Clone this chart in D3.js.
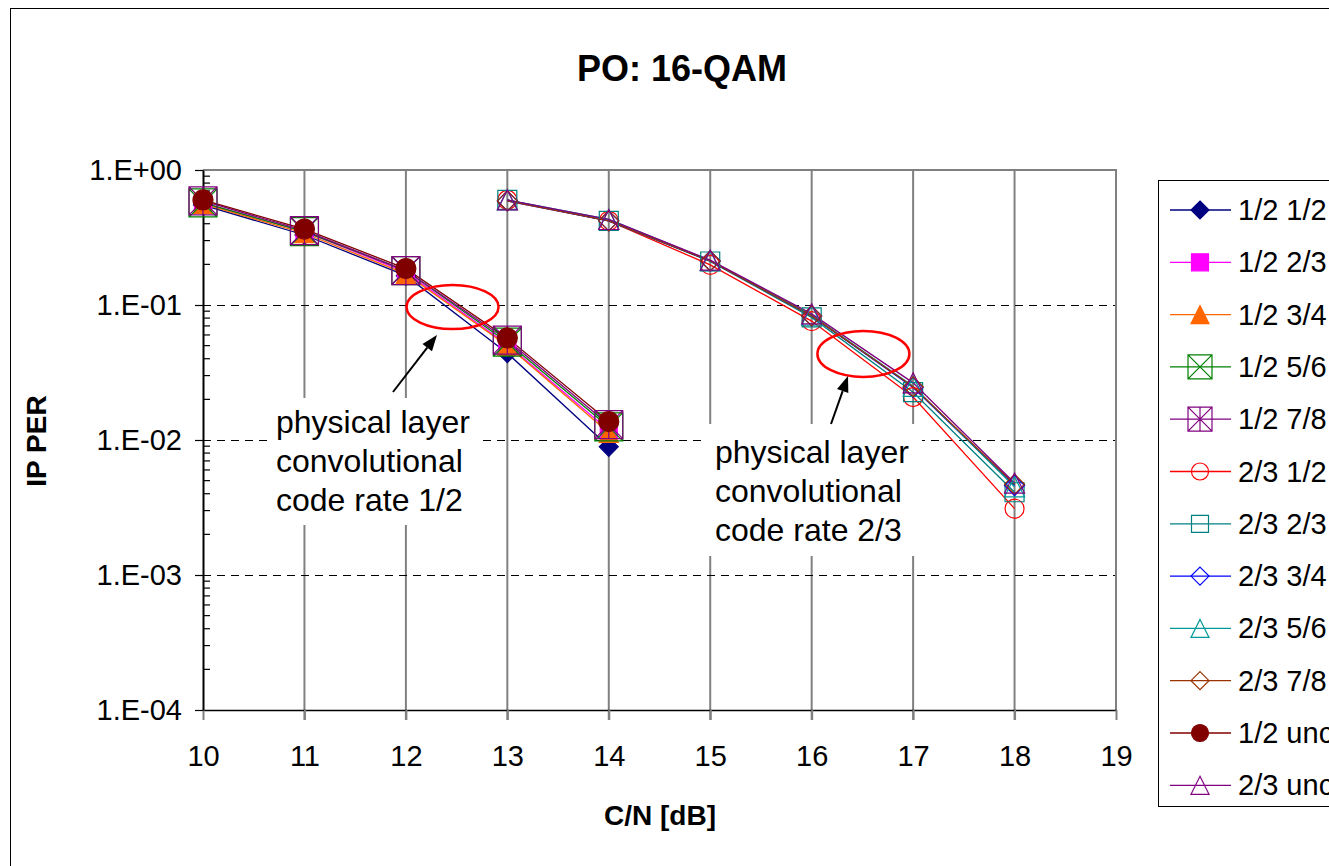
<!DOCTYPE html>
<html>
<head>
<meta charset="utf-8">
<script src="https://cdn.jsdelivr.net/npm/d3@7"></script>
<style>
body { margin: 0; background: #fff; }
svg { display: block; font-family: "Liberation Sans", Arial, sans-serif; }
</style>
</head>
<body>
<svg></svg>
<script>
const size = {w: 1329, h: 866};
const plot = {l: 203, r: 1116, t: 170, b: 710};

// ---- data ----
const xRate12 = [10, 11, 12, 13, 14];
const xRate23 = [13, 14, 15, 16, 17, 18];

const seriesNames = ['1/2 1/2', '1/2 2/3', '1/2 3/4', '1/2 5/6', '1/2 7/8',
    '2/3 1/2', '2/3 2/3', '2/3 3/4', '2/3 5/6', '2/3 7/8', '1/2 uncoded', '2/3 uncoded'];

const per12_12 = [0.55, 0.33, 0.165, 0.044, 0.0089];
const per12_23 = [0.57, 0.35, 0.175, 0.051, 0.0118];
const per12_34 = [0.56, 0.34, 0.17, 0.050, 0.0113];
const per12_56 = [0.57, 0.35, 0.18, 0.053, 0.0125];
const per12_78 = [0.59, 0.355, 0.18, 0.055, 0.013];
const per23_12 = [0.60, 0.42, 0.198, 0.076, 0.0208, 0.0031];
const per23_23 = [0.60, 0.42, 0.21, 0.081, 0.0226, 0.0041];
const per23_34 = [0.59, 0.42, 0.212, 0.083, 0.0245, 0.0046];
const per23_56 = [0.60, 0.43, 0.213, 0.084, 0.025, 0.0045];
const per23_78 = [0.59, 0.42, 0.212, 0.083, 0.0248, 0.0047];
const per12_unc = [0.60, 0.365, 0.186, 0.057, 0.0137];
const per23_unc = [0.60, 0.43, 0.215, 0.086, 0.0265, 0.0048];

const xTickValues = [10, 11, 12, 13, 14, 15, 16, 17, 18, 19];
const yTickValues = [1, 1e-1, 1e-2, 1e-3, 1e-4];
const yTickLabels = ['1.E+00', '1.E-01', '1.E-02', '1.E-03', '1.E-04'];

// ---- styles ----
const seriesStyles = [
    {color: '#000080', marker: 'diamond', fill: true, s: 19, ls: 18},
    {color: '#ff00ff', marker: 'square', fill: true, s: 17, ls: 17},
    {color: '#ff6600', marker: 'triangle', fill: true, s: 19, ls: 18},
    {color: '#008000', marker: 'squareX', fill: false, s: 28, ls: 24},
    {color: '#800080', marker: 'squareStar', fill: false, s: 28, ls: 24},
    {color: '#ff0000', marker: 'circle', fill: false, s: 19, ls: 17},
    {color: '#008080', marker: 'square', fill: false, s: 19, ls: 17},
    {color: '#0000ff', marker: 'diamond', fill: false, s: 20, ls: 18},
    {color: '#009999', marker: 'triangle', fill: false, s: 20, ls: 18},
    {color: '#993300', marker: 'diamond', fill: false, s: 20, ls: 18},
    {color: '#800000', marker: 'circle', fill: true, s: 20, ls: 17},
    {color: '#800080', marker: 'triangle', fill: false, s: 20, ls: 18}
];

const seriesValues = [per12_12, per12_23, per12_34, per12_56, per12_78,
    per23_12, per23_23, per23_34, per23_56, per23_78, per12_unc, per23_unc];
const seriesX = [xRate12, xRate12, xRate12, xRate12, xRate12,
    xRate23, xRate23, xRate23, xRate23, xRate23, xRate12, xRate23];

const series = seriesNames.map((name, i) => ({
    name: name,
    style: seriesStyles[i],
    points: seriesValues[i].map((v, j) => ({x: seriesX[i][j], y: v}))
}));

const svg = d3.select('svg')
    .attr('width', size.w)
    .attr('height', size.h);

const x = d3.scaleLinear().domain([10, 19]).range([plot.l, plot.r]);
const y = d3.scaleLog().domain([1e-4, 1]).range([plot.b, plot.t]);

// outer chart border
svg.append('rect')
    .attr('x', 10.5).attr('y', 8.5)
    .attr('width', 1400).attr('height', 900)
    .attr('fill', '#fff')
    .attr('stroke', '#000').attr('stroke-width', 1);

svg.append('text')
    .attr('x', 682).attr('y', 81)
    .attr('text-anchor', 'middle')
    .attr('font-size', 36).attr('font-weight', 'bold')
    .text('PO: 16-QAM');

// vertical grid lines (extend below axis as ticks)
svg.append('g').selectAll('line')
    .data(xTickValues.slice(1, -1))
    .enter().append('line')
    .attr('x1', d => x(d)).attr('x2', d => x(d))
    .attr('y1', plot.t).attr('y2', plot.b + 10)
    .attr('stroke', '#808080').attr('stroke-width', 2);

// horizontal dashed grid lines
svg.append('g').selectAll('line')
    .data(yTickValues.slice(1, -1))
    .enter().append('line')
    .attr('x1', plot.l).attr('x2', plot.r)
    .attr('y1', d => Math.round(y(d)) + 0.5).attr('y2', d => Math.round(y(d)) + 0.5)
    .attr('stroke', '#000').attr('stroke-width', 1)
    .attr('stroke-dasharray', '8,6');

// plot border top/right
svg.append('path')
    .attr('d', `M${plot.l},${plot.t}H${plot.r}V${plot.b}`)
    .attr('fill', 'none')
    .attr('stroke', '#808080').attr('stroke-width', 2);

// axes
let xAxis = svg.append('g')
    .attr('transform', `translate(0,${plot.b})`)
    .call(d3.axisBottom(x).tickValues(xTickValues).tickSize(10).tickPadding(25).tickSizeOuter(0))
xAxis.selectAll('text').attr('font-size', 29).attr('fill', '#000').attr('font-family', null);
xAxis.selectAll('line').attr('stroke', '#808080').attr('stroke-width', 2);
xAxis.select('.domain').attr('stroke', '#000').attr('stroke-width', 1.5);

let yAxis = svg.append('g')
    .attr('transform', `translate(${plot.l},0)`)
    .call(d3.axisLeft(y).tickValues(yTickValues)
        .tickFormat((d, i) => yTickLabels[i]).tickSize(8).tickPadding(13).tickSizeOuter(0));
yAxis.selectAll('text').attr('font-size', 29).attr('fill', '#000').attr('font-family', null);
yAxis.selectAll('line').attr('stroke', '#000').attr('stroke-width', 1.2);
yAxis.select('.domain').attr('stroke', '#000').attr('stroke-width', 2);

// minor ticks on y axis (inside)
let minorVals = [];
[-4, -3, -2, -1].forEach(e => {
    for (let k = 2; k <= 9; k++) minorVals.push(k * Math.pow(10, e));
});
svg.append('g').selectAll('line')
    .data(minorVals)
    .enter().append('line')
    .attr('x1', plot.l).attr('x2', plot.l + 7)
    .attr('y1', d => y(d)).attr('y2', d => y(d))
    .attr('stroke', '#000').attr('stroke-width', 1.2);

svg.append('text')
    .attr('transform', 'translate(46,441) rotate(-90)')
    .attr('text-anchor', 'middle')
    .attr('font-size', 28).attr('font-weight', 'bold')
    .text('IP PER');

svg.append('text')
    .attr('x', 660).attr('y', 825)
    .attr('text-anchor', 'middle')
    .attr('font-size', 28).attr('font-weight', 'bold')
    .text('C/N [dB]');

// marker shapes
function markerPath(type, s) {
    let h = s / 2;
    if (type === 'diamond') return `M0,${-h}L${h},0L0,${h}L${-h},0Z`;
    if (type === 'square') return `M${-h},${-h}H${h}V${h}H${-h}Z`;
    if (type === 'triangle') return `M0,${-h}L${h},${h}H${-h}Z`;
    if (type === 'circle') return `M${h},0A${h},${h} 0 1,1 ${-h},0A${h},${h} 0 1,1 ${h},0Z`;
    if (type === 'squareX') return `M${-h},${-h}H${h}V${h}H${-h}Z M${-h},${-h}L${h},${h}M${h},${-h}L${-h},${h}`;
    if (type === 'squareStar') return `M${-h},${-h}H${h}V${h}H${-h}Z M${-h},${-h}L${h},${h}M${h},${-h}L${-h},${h}M0,${-h}V${h}`;
}

function drawMarker(sel, st, s) {
    sel.append('path')
        .attr('d', markerPath(st.marker, s))
        .attr('fill', st.fill ? st.color : 'none')
        .attr('stroke', st.color)
        .attr('stroke-width', 1.2);
}

// series lines
let line = d3.line().x(d => x(d.x)).y(d => y(d.y));
svg.append('g').selectAll('path')
    .data(series)
    .enter().append('path')
    .attr('d', d => line(d.points))
    .attr('fill', 'none')
    .attr('stroke', d => d.style.color)
    .attr('stroke-width', 1.3);

// series markers
series.forEach(ser => {
    let g = svg.append('g');
    ser.points.forEach(p => {
        let m = g.append('g').attr('transform', `translate(${x(p.x)},${y(p.y)})`);
        drawMarker(m, ser.style, ser.style.s);
    });
});

// annotations: ellipses, text boxes, arrows
const ellipses = [{cx: 12.46, cy: 0.0966, rx: 46, ry: 22}, {cx: 16.51, cy: 0.0434, rx: 46, ry: 23}];
svg.append('g').selectAll('ellipse')
    .data(ellipses)
    .enter().append('ellipse')
    .attr('cx', d => x(d.cx)).attr('cy', d => y(d.cy))
    .attr('rx', d => d.rx).attr('ry', d => d.ry)
    .attr('fill', 'none').attr('stroke', '#ff0000').attr('stroke-width', 2.5);

const notes = [
    {box: [268, 398, 210, 127], tx: 276, ty: 433, lines: ['physical layer', 'convolutional', 'code rate 1/2']},
    {box: [707, 424, 215, 132], tx: 715, ty: 463, lines: ['physical layer', 'convolutional', 'code rate 2/3']}
];
notes.forEach(n => {
    svg.append('rect')
        .attr('x', n.box[0]).attr('y', n.box[1])
        .attr('width', n.box[2]).attr('height', n.box[3])
        .attr('fill', '#fff');
    let t = svg.append('text')
        .attr('font-size', 32);
    n.lines.forEach((l, i) => {
        t.append('tspan').attr('x', n.tx).attr('y', n.ty + i * 39).text(l);
    });
});

const arrows = [{x1: 393, y1: 392, x2: 437, y2: 335}, {x1: 831, y1: 424, x2: 848, y2: 376}];
arrows.forEach(a => {
    let ang = Math.atan2(a.y2 - a.y1, a.x2 - a.x1);
    let len = 16, wid = 6;
    let bx = a.x2 - len * Math.cos(ang), by = a.y2 - len * Math.sin(ang);
    svg.append('line')
        .attr('x1', a.x1).attr('y1', a.y1).attr('x2', bx).attr('y2', by)
        .attr('stroke', '#000').attr('stroke-width', 2);
    svg.append('path')
        .attr('d', `M${a.x2},${a.y2}L${bx + wid * Math.sin(ang)},${by - wid * Math.cos(ang)}L${bx - wid * Math.sin(ang)},${by + wid * Math.cos(ang)}Z`)
        .attr('fill', '#000');
});

// legend
let legend = svg.append('g');
legend.append('rect')
    .attr('x', 1158.5).attr('y', 180.5)
    .attr('width', 300).attr('height', 626)
    .attr('fill', '#fff')
    .attr('stroke', '#000').attr('stroke-width', 1);

let items = legend.selectAll('g.item')
    .data(series)
    .enter().append('g')
    .attr('class', 'item')
    .attr('transform', (d, i) => `translate(0,${210 + i * 52.3})`);
items.append('line')
    .attr('x1', 1170).attr('x2', 1231)
    .attr('stroke', d => d.style.color).attr('stroke-width', 1.3);
items.each(function (d) {
    let m = d3.select(this).append('g').attr('transform', 'translate(1200,0)');
    drawMarker(m, d.style, d.style.ls);
});
items.append('text')
    .attr('x', 1238).attr('y', 10)
    .attr('font-size', 29)
    .text(d => d.name);
</script>
</body>
</html>
